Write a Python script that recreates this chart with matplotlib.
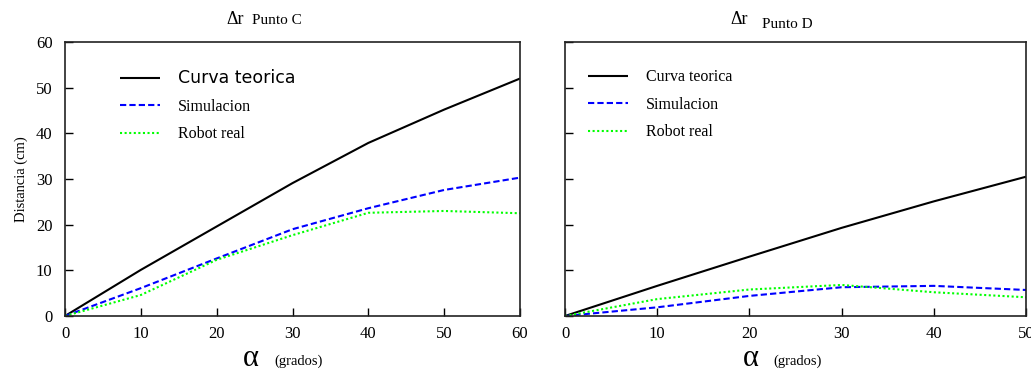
import matplotlib
matplotlib.use("Agg")
import matplotlib.pyplot as plt

# Data
alpha_c = [0, 10, 20, 30, 40, 50, 60]
teorica_c = [0, 10.1, 19.6, 29.1, 37.9, 45.2, 52.0]
simul_c = [0, 6.1, 12.6, 19.0, 23.6, 27.6, 30.3]
robot_c = [0, 4.6, 12.3, 17.7, 22.6, 23.0, 22.5]

alpha_d = [0, 10, 20, 30, 40, 50]
teorica_d = [0, 6.6, 13.0, 19.3, 25.1, 30.5]
simul_d = [0, 1.9, 4.4, 6.3, 6.6, 5.7]
robot_d = [0, 3.7, 5.8, 6.8, 5.2, 4.1]

labels = ["Curva teorica", "Simulacion", "Robot real"]
yticks = [0, 10, 20, 30, 40, 50, 60]

serif = ["Liberation Serif", "DejaVu Serif"]
plt.rcParams['font.family'] = serif
plt.rcParams['xtick.direction'] = 'in'
plt.rcParams['ytick.direction'] = 'in'

fig = plt.figure(figsize=(10.31, 3.76), dpi=100)
W, H = 1031, 376
axC = fig.add_axes([65 / W, 1 - 316 / H, 455 / W, 274 / H])
axD = fig.add_axes([565 / W, 1 - 316 / H, 461 / W, 274 / H])

def draw(ax, x, t, s, r, xmax, first_sans, show_ylabels, leg_x):
    l1, = ax.plot(x, t, color="black", lw=1.5, solid_capstyle="butt")
    l2, = ax.plot(x, s, color=(0, 0, 1), lw=1.5, dashes=(3, 1.5))
    l3, = ax.plot(x, r, color=(0, 1, 0), lw=1.5, dashes=(1, 1.2))
    ax.set_xlim(0, xmax)
    ax.set_ylim(0, 60)
    ax.set_yticks(yticks)
    ax.set_xticks(x)
    ax.tick_params(axis="both", direction="in", length=6, width=1,
                   labelsize=12, top=False, right=False)
    ax.tick_params(axis="x", pad=7)
    ax.tick_params(axis="y", pad=9)
    if not show_ylabels:
        ax.set_yticklabels([])
    for sp in ax.spines.values():
        sp.set_linewidth(1.2)
        sp.set_color("#222222")
    leg = ax.legend([l1, l2, l3], labels, loc="upper left",
                    bbox_to_anchor=(leg_x, 0.90), frameon=False,
                    handlelength=2.5, handletextpad=1.1, labelspacing=0.72,
                    fontsize=11.5, borderaxespad=0, borderpad=0)
    if first_sans:
        leg.get_texts()[0].set_fontfamily("DejaVu Sans")
        leg.get_texts()[0].set_fontsize(12.5)
    return leg

draw(axC, alpha_c, teorica_c, simul_c, robot_c, 60, True, True, 0.121)
draw(axD, alpha_d, teorica_d, simul_d, robot_d, 50, False, False, 0.05)

axC.set_ylabel("Distancia (cm)", fontsize=10.5, labelpad=6)

# Titles
fig.text(226 / W, 1 - 20 / H, "Δr", fontsize=13, ha="left", va="center")
fig.text(252 / W, 1 - 21 / H, "Punto C", fontsize=11, ha="left", va="center")
fig.text(730 / W, 1 - 19 / H, "Δr", fontsize=13, ha="left", va="center")
fig.text(762 / W, 1 - 24 / H, "Punto D", fontsize=11, ha="left", va="center")

# x labels
fig.text(251 / W, 1 - 358 / H, "α", fontsize=22, ha="center", va="center")
fig.text(274 / W, 1 - 361 / H, "(grados)", fontsize=10.5, ha="left", va="center")
fig.text(751 / W, 1 - 358 / H, "α", fontsize=22, ha="center", va="center")
fig.text(773 / W, 1 - 361 / H, "(grados)", fontsize=10.5, ha="left", va="center")

fig.savefig("out.png", dpi=100, facecolor="white")
